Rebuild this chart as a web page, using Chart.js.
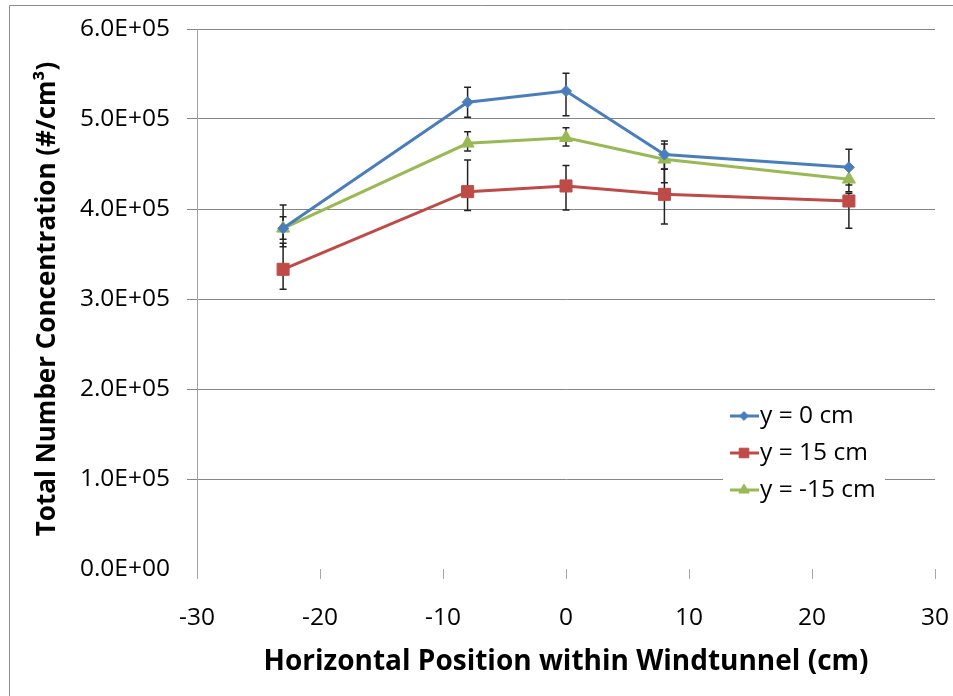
<!DOCTYPE html>
<html>
<head>
<meta charset="utf-8">
<script src="https://cdn.jsdelivr.net/npm/chart.js@4.4.0/dist/chart.umd.min.js"></script>
<style>
html, body { margin: 0; padding: 0; background: #fff; }
#wrap { width: 953px; height: 696px; position: relative; }
</style>
</head>
<body>
<div id="wrap"><canvas id="chart" width="953" height="696"></canvas></div>
<script>
// ====================
// data
// ====================
const xPositions = [-23, -8, 0, 8, 23];
const seriesNames = ["y = 0 cm", "y = 15 cm", "y = -15 cm"];

const concY0 = [378500, 518600, 531000, 460500, 446300];
const concY15 = [333000, 419300, 425600, 416300, 408900];
const concYm15 = [378500, 473000, 479200, 455200, 433000];

// error bars (upper / lower extent)
const errPlusY0 = [26000, 16700, 19700, 15000, 20000];
const errMinusY0 = [20500, 16700, 27400, 16000, 19700];
const errPlusY15 = [29000, 35200, 22600, 28000, 8500];
const errMinusY15 = [22200, 21100, 26700, 33000, 30300];
const errPlusYm15 = [12800, 12900, 11100, 17000, 14800];
const errMinusYm15 = [12000, 8600, 9200, 26000, 13800];

const yTicks = [0, 100000, 200000, 300000, 400000, 500000, 600000];
const xTicks = [-30, -20, -10, 0, 10, 20, 30];

const colors = ["#4A7EBB", "#BE4B48", "#98B954"];
const markers = [
    { style: "rectRot", radius: 5.5 },
    { style: "rect", radius: 8.5 },
    { style: "triangle", radius: 7.5 }
];

const FONT = "'Open Sans', 'DejaVu Sans', sans-serif";

function pts(vals) {
    return vals.map((v, i) => ({ x: xPositions[i], y: v }));
}

function sciLabel(v) {
    if (v === 0) return "0.0E+00";
    const e = Math.floor(Math.log10(v) + 1e-9);
    const m = v / Math.pow(10, e);
    return m.toFixed(1) + "E+" + String(e).padStart(2, "0");
}

function makeSet(i, vals, plus, minus) {
    return {
        label: seriesNames[i],
        data: pts(vals),
        errPlus: plus,
        errMinus: minus,
        borderColor: colors[i],
        backgroundColor: colors[i],
        borderWidth: 3,
        pointStyle: markers[i].style,
        pointRadius: markers[i].radius,
        pointHoverRadius: markers[i].radius,
        pointBackgroundColor: colors[i],
        pointBorderColor: colors[i],
        pointBorderWidth: 1,
        tension: 0
    };
}

// ====================
// plugins
// ====================
const frame = {
    id: "frame",
    beforeDraw(chart) {
        const ctx = chart.ctx;
        ctx.save();
        ctx.strokeStyle = "#8c8c8c";
        ctx.lineWidth = 1;
        ctx.beginPath();
        ctx.moveTo(9.5, chart.height);
        ctx.lineTo(9.5, 5.5);
        ctx.lineTo(chart.width, 5.5);
        ctx.stroke();
        ctx.restore();
    }
};

const errorBars = {
    id: "errorBars",
    beforeDatasetsDraw(chart) {
        const { ctx, scales: { x, y } } = chart;
        ctx.save();
        ctx.strokeStyle = "#222";
        ctx.lineWidth = 1.5;
        chart.data.datasets.forEach(ds => {
            ds.data.forEach((p, i) => {
                const px = x.getPixelForValue(p.x);
                const top = y.getPixelForValue(p.y + ds.errPlus[i]);
                const bot = y.getPixelForValue(p.y - ds.errMinus[i]);
                ctx.beginPath();
                ctx.moveTo(px, top); ctx.lineTo(px, bot);
                ctx.moveTo(px - 3.5, top); ctx.lineTo(px + 3.5, top);
                ctx.moveTo(px - 3.5, bot); ctx.lineTo(px + 3.5, bot);
                ctx.stroke();
            });
        });
        ctx.restore();
    }
};

// legend inside the plot, line + marker like the spreadsheet one
const insideLegend = {
    id: "insideLegend",
    afterDraw(chart) {
        const ctx = chart.ctx;
        const left = 723, top = 393, w = 162, h = 115;
        ctx.save();
        ctx.fillStyle = "#fff";
        ctx.fillRect(left, top, w, h);
        chart.data.datasets.forEach((ds, i) => {
            const cy = top + 23 + i * 37;
            ctx.strokeStyle = ds.borderColor;
            ctx.lineWidth = 3;
            ctx.beginPath();
            ctx.moveTo(left + 7, cy);
            ctx.lineTo(left + 36, cy);
            ctx.stroke();
            ctx.fillStyle = ds.backgroundColor;
            ctx.strokeStyle = ds.borderColor;
            ctx.lineWidth = 1;
            Chart.helpers.drawPoint(ctx, {
                pointStyle: ds.pointStyle,
                radius: ds.pointRadius * 0.8,
                borderWidth: 1
            }, left + 21, cy);
            ctx.fillStyle = "#000";
            ctx.font = "24.5px " + FONT;
            ctx.textBaseline = "middle";
            ctx.textAlign = "left";
            ctx.fillText(ds.label, left + 37, cy);
        });
        ctx.restore();
    }
};

// ====================
// chart
// ====================
new Chart(document.getElementById("chart"), {
    type: "line",
    data: {
        datasets: [
            makeSet(0, concY0, errPlusY0, errMinusY0),
            makeSet(1, concY15, errPlusY15, errMinusY15),
            makeSet(2, concYm15, errPlusYm15, errMinusYm15)
        ]
    },
    options: {
        responsive: false,
        animation: false,
        devicePixelRatio: 1,
        layout: { padding: { top: 29, right: 18, bottom: 0, left: 0 } },
        plugins: {
            legend: { display: false },
            tooltip: { enabled: false }
        },
        scales: {
            x: {
                type: "linear",
                min: -30,
                max: 30,
                afterFit: s => {
                    s.height = 127;
                    s.paddingLeft = 0;
                    s.paddingRight = 0;
                },
                afterBuildTicks: s => { s.ticks = xTicks.map(v => ({ value: v })); },
                grid: {
                    drawOnChartArea: false,
                    drawTicks: true,
                    tickLength: 10,
                    color: "#a6a6a6",
                    tickColor: "#a6a6a6"
                },
                border: { display: false },
                ticks: {
                    color: "#000",
                    padding: 24,
                    maxRotation: 0,
                    font: { family: FONT, size: 24.5 }
                },
                title: {
                    display: true,
                    text: "Horizontal Position within Windtunnel (cm)",
                    color: "#000",
                    font: { family: FONT, size: 28, weight: "bold" },
                    padding: { top: 0, bottom: 17 }
                }
            },
            y: {
                min: 0,
                max: 600000,
                afterFit: s => {
                    s.width = 197;
                    s.paddingTop = 0;
                    s.paddingBottom = 0;
                },
                afterBuildTicks: s => { s.ticks = yTicks.map(v => ({ value: v })); },
                grid: {
                    drawTicks: true,
                    tickLength: 10,
                    color: c => (c.tick && c.tick.value === 0) ? "rgba(0,0,0,0)" : "#868686",
                    tickColor: c => (c.tick && c.tick.value === 0) ? "rgba(0,0,0,0)" : "#868686"
                },
                border: { display: true, color: "#a0a0a0", width: 1 },
                ticks: {
                    color: "#000",
                    padding: 17,
                    font: { family: FONT, size: 24.5 },
                    callback: v => sciLabel(v)
                },
                title: {
                    display: true,
                    text: "Total Number Concentration (#/cm³)",
                    color: "#000",
                    font: { family: FONT, size: 26, weight: "bold" },
                    padding: { top: 32, bottom: 0 }
                }
            }
        }
    },
    plugins: [frame, errorBars, insideLegend]
});
</script>
</body>
</html>
